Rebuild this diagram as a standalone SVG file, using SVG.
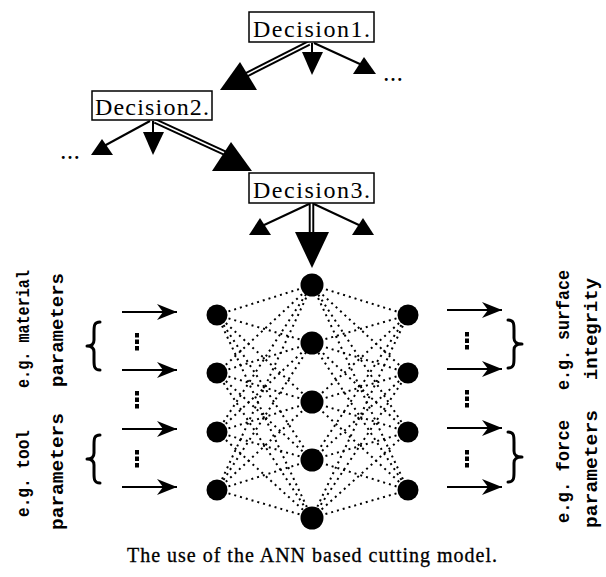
<svg xmlns="http://www.w3.org/2000/svg" width="606" height="577" viewBox="0 0 606 577">
<style>
.d{stroke:#000;stroke-width:2;stroke-dasharray:2 4;fill:none}
.a{stroke:#000;stroke-width:2;fill:none}
.box{fill:#fff;stroke:#000;stroke-width:1.5}
.dl{stroke:#000;stroke-width:5.5}
.dlw{stroke:#fff;stroke-width:1.6}
.tri{fill:#000}
.node{fill:#000}
.br{stroke:#000;stroke-width:3;fill:none;stroke-linecap:round;stroke-linejoin:round}
.lbl{font-family:"Liberation Serif",serif;font-size:24px;fill:#000}
.rot{font-family:"Liberation Mono",monospace;font-size:19px;font-weight:bold;fill:#000}
.cap{font-family:"Liberation Serif",serif;font-size:20px;fill:#000;stroke:#000;stroke-width:0.3}
.el{font-family:"Liberation Serif",serif;font-size:18px;font-weight:bold;fill:#000}
</style>
<defs>
<marker id="barb" viewBox="0 0 20 16" refX="20" refY="8" markerWidth="20" markerHeight="16" markerUnits="userSpaceOnUse" orient="auto">
<path d="M0,0 L20,8 L0,16 L6,8 Z" fill="#000"/>
</marker>
</defs>
<rect width="606" height="577" fill="#fff"/>

<g id="connectors">
<!-- decision tree -->
<line class="dl" x1="309" y1="43" x2="246" y2="75"/>
<line class="dlw" x1="309" y1="43" x2="246" y2="75"/>
<line class="a" x1="312" y1="43" x2="312" y2="54"/>
<line class="a" x1="314" y1="43" x2="362" y2="65"/>
<line class="a" x1="150" y1="121" x2="104" y2="146"/>
<line class="a" x1="153" y1="121" x2="153" y2="134"/>
<line class="dl" x1="155" y1="121" x2="229" y2="155"/>
<line class="dlw" x1="155" y1="121" x2="229" y2="155"/>
<line class="a" x1="309" y1="204" x2="262" y2="226"/>
<line class="a" x1="314" y1="204" x2="361" y2="226"/>
<line class="dl" x1="311.5" y1="203" x2="311.5" y2="234"/>
<line class="dlw" x1="311.5" y1="203" x2="311.5" y2="234"/>
<!-- input / output arrows -->
<line class="a" x1="122" y1="312" x2="177" y2="312" marker-end="url(#barb)"/>
<line class="a" x1="122" y1="370" x2="177" y2="370" marker-end="url(#barb)"/>
<line class="a" x1="122" y1="429" x2="177" y2="429" marker-end="url(#barb)"/>
<line class="a" x1="122" y1="487" x2="177" y2="487" marker-end="url(#barb)"/>
<line class="a" x1="447" y1="310" x2="502" y2="310" marker-end="url(#barb)"/>
<line class="a" x1="447" y1="369" x2="502" y2="369" marker-end="url(#barb)"/>
<line class="a" x1="447" y1="428" x2="502" y2="428" marker-end="url(#barb)"/>
<line class="a" x1="447" y1="487" x2="502" y2="487" marker-end="url(#barb)"/>
<!-- network links: input to hidden -->
<line class="d" x1="217" y1="315" x2="312" y2="285"/>
<line class="d" x1="217" y1="315" x2="312" y2="343"/>
<line class="d" x1="217" y1="315" x2="312" y2="402"/>
<line class="d" x1="217" y1="315" x2="312" y2="460"/>
<line class="d" x1="217" y1="315" x2="312" y2="518"/>
<line class="d" x1="217" y1="373" x2="312" y2="285"/>
<line class="d" x1="217" y1="373" x2="312" y2="343"/>
<line class="d" x1="217" y1="373" x2="312" y2="402"/>
<line class="d" x1="217" y1="373" x2="312" y2="460"/>
<line class="d" x1="217" y1="373" x2="312" y2="518"/>
<line class="d" x1="217" y1="432" x2="312" y2="285"/>
<line class="d" x1="217" y1="432" x2="312" y2="343"/>
<line class="d" x1="217" y1="432" x2="312" y2="402"/>
<line class="d" x1="217" y1="432" x2="312" y2="460"/>
<line class="d" x1="217" y1="432" x2="312" y2="518"/>
<line class="d" x1="217" y1="490" x2="312" y2="285"/>
<line class="d" x1="217" y1="490" x2="312" y2="343"/>
<line class="d" x1="217" y1="490" x2="312" y2="402"/>
<line class="d" x1="217" y1="490" x2="312" y2="460"/>
<line class="d" x1="217" y1="490" x2="312" y2="518"/>
<!-- hidden to output -->
<line class="d" x1="408" y1="315" x2="312" y2="285"/>
<line class="d" x1="408" y1="315" x2="312" y2="343"/>
<line class="d" x1="408" y1="315" x2="312" y2="402"/>
<line class="d" x1="408" y1="315" x2="312" y2="460"/>
<line class="d" x1="408" y1="315" x2="312" y2="518"/>
<line class="d" x1="408" y1="373" x2="312" y2="285"/>
<line class="d" x1="408" y1="373" x2="312" y2="343"/>
<line class="d" x1="408" y1="373" x2="312" y2="402"/>
<line class="d" x1="408" y1="373" x2="312" y2="460"/>
<line class="d" x1="408" y1="373" x2="312" y2="518"/>
<line class="d" x1="408" y1="432" x2="312" y2="285"/>
<line class="d" x1="408" y1="432" x2="312" y2="343"/>
<line class="d" x1="408" y1="432" x2="312" y2="402"/>
<line class="d" x1="408" y1="432" x2="312" y2="460"/>
<line class="d" x1="408" y1="432" x2="312" y2="518"/>
<line class="d" x1="408" y1="490" x2="312" y2="285"/>
<line class="d" x1="408" y1="490" x2="312" y2="343"/>
<line class="d" x1="408" y1="490" x2="312" y2="402"/>
<line class="d" x1="408" y1="490" x2="312" y2="460"/>
<line class="d" x1="408" y1="490" x2="312" y2="518"/>
</g>

<g id="arrowheads">
<polygon class="tri" points="240,62 220,90 257,90"/>
<polygon class="tri" points="302,52 323,52 312,75"/>
<polygon class="tri" points="364,57 353,74 376,74"/>
<polygon class="tri" points="102,139 91,155 113,155"/>
<polygon class="tri" points="143,132 164,132 153,155"/>
<polygon class="tri" points="231,142 212,171 252,171"/>
<polygon class="tri" points="260,218 249,235 271,235"/>
<polygon class="tri" points="363,218 352,235 374,235"/>
<polygon class="tri" points="295,232 329,232 312,268"/>
</g>

<g id="decision1">
<rect class="box" x="249" y="12" width="125" height="30"/>
<text class="lbl" x="253" y="37" textLength="117" lengthAdjust="spacing">Decision1.</text>
</g>
<g id="decision2">
<rect class="box" x="92" y="91" width="120" height="29"/>
<text class="lbl" x="95" y="115" textLength="114" lengthAdjust="spacing">Decision2.</text>
</g>
<g id="decision3">
<rect class="box" x="249" y="173" width="125" height="30"/>
<text class="lbl" x="253" y="198" textLength="117" lengthAdjust="spacing">Decision3.</text>
</g>
<text class="el" x="384" y="81" textLength="18" lengthAdjust="spacing">...</text>
<text class="el" x="61" y="159" textLength="18" lengthAdjust="spacing">...</text>

<g id="input-layer">
<circle class="node" cx="217" cy="315" r="10.5"/>
<circle class="node" cx="217" cy="373" r="10.5"/>
<circle class="node" cx="217" cy="432" r="10.5"/>
<circle class="node" cx="217" cy="490" r="10.5"/>
</g>
<g id="hidden-layer">
<circle class="node" cx="312" cy="285" r="11.5"/>
<circle class="node" cx="312" cy="343" r="11.5"/>
<circle class="node" cx="312" cy="402" r="11.5"/>
<circle class="node" cx="312" cy="460" r="11.5"/>
<circle class="node" cx="312" cy="518" r="11.5"/>
</g>
<g id="output-layer">
<circle class="node" cx="408" cy="315" r="10.5"/>
<circle class="node" cx="408" cy="373" r="10.5"/>
<circle class="node" cx="408" cy="432" r="10.5"/>
<circle class="node" cx="408" cy="490" r="10.5"/>
</g>

<g id="ellipses" fill="#000">
<rect x="135" y="333" width="4" height="4.5"/><rect x="135" y="339.5" width="4" height="4.5"/><rect x="135" y="346" width="4" height="4.5"/>
<rect x="135" y="391" width="4" height="4.5"/><rect x="135" y="397.5" width="4" height="4.5"/><rect x="135" y="404" width="4" height="4.5"/>
<rect x="135" y="450" width="4" height="4.5"/><rect x="135" y="456.5" width="4" height="4.5"/><rect x="135" y="463" width="4" height="4.5"/>
<rect x="465" y="332" width="4" height="4.5"/><rect x="465" y="338.5" width="4" height="4.5"/><rect x="465" y="345" width="4" height="4.5"/>
<rect x="465" y="390" width="4" height="4.5"/><rect x="465" y="396.5" width="4" height="4.5"/><rect x="465" y="403" width="4" height="4.5"/>
<rect x="465" y="450" width="4" height="4.5"/><rect x="465" y="456.5" width="4" height="4.5"/><rect x="465" y="463" width="4" height="4.5"/>
</g>

<g id="braces">
<path class="br" d="M100,322 C94,322 94,326 94,332 L94,340 C94,344 92,346 87,346 C92,346 94,348 94,352 L94,360 C94,366 94,370 100,370"/>
<path class="br" d="M100,435 C94,435 94,439 94,445 L94,453 C94,457 92,459 87,459 C92,459 94,461 94,465 L94,473 C94,479 94,483 100,483"/>
<path class="br" d="M508,320 C514,320 514,324 514,330 L514,338 C514,342 516,344 522,344 C516,344 514,346 514,350 L514,358 C514,364 514,368 508,368"/>
<path class="br" d="M508,432 C514,432 514,436 514,442 L514,451 C514,455 516,457 522,457 C516,457 514,459 514,463 L514,472 C514,478 514,482 508,482"/>
</g>

<g id="labels">
<text class="rot" transform="translate(29,388) rotate(-90)" textLength="118" lengthAdjust="spacingAndGlyphs">e.g. material</text>
<text class="rot" transform="translate(63,387) rotate(-90)" textLength="114" lengthAdjust="spacingAndGlyphs">parameters</text>
<text class="rot" transform="translate(29,517) rotate(-90)" textLength="87" lengthAdjust="spacingAndGlyphs">e.g. tool</text>
<text class="rot" transform="translate(63,530) rotate(-90)" textLength="117" lengthAdjust="spacingAndGlyphs">parameters</text>
<text class="rot" transform="translate(569,390) rotate(-90)" textLength="120" lengthAdjust="spacingAndGlyphs">e.g. surface</text>
<text class="rot" transform="translate(597,380) rotate(-90)" textLength="102" lengthAdjust="spacingAndGlyphs">integrity</text>
<text class="rot" transform="translate(569,523) rotate(-90)" textLength="103" lengthAdjust="spacingAndGlyphs">e.g. force</text>
<text class="rot" transform="translate(597,528) rotate(-90)" textLength="118" lengthAdjust="spacingAndGlyphs">parameters</text>
<text class="cap" x="127" y="562" textLength="370" lengthAdjust="spacing">The use of the ANN based cutting model.</text>
</g>
</svg>
